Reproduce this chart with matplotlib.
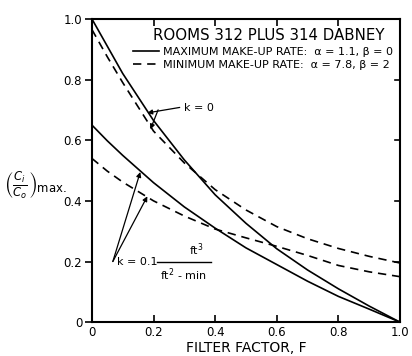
import numpy as np
import matplotlib
matplotlib.use('Agg')
from matplotlib import pyplot as plt
from matplotlib.lines import Line2D

# filter factor F
f_vals = [0.0, 0.05, 0.1, 0.2, 0.3, 0.4, 0.5, 0.6, 0.7, 0.8, 0.9, 1.0]

# k = 0 curves
max_k0 = [1.0, 0.91, 0.82, 0.665, 0.535, 0.42, 0.326, 0.242, 0.172, 0.11, 0.053, 0.0]
min_k0 = [0.965, 0.875, 0.79, 0.63, 0.525, 0.437, 0.37, 0.315, 0.275, 0.243, 0.217, 0.195]

# k = 0.1 ft3/ft2-min curves
max_k01 = [0.65, 0.598, 0.55, 0.46, 0.38, 0.31, 0.245, 0.19, 0.135, 0.085, 0.043, 0.0]
min_k01 = [0.54, 0.498, 0.462, 0.40, 0.35, 0.307, 0.278, 0.25, 0.22, 0.187, 0.166, 0.15]

x_ticks = [0, 0.2, 0.4, 0.6, 0.8, 1.0]
x_labels = ['0', '0.2', '0.4', '0.6', '0.8', '1.0']
y_ticks = [0, 0.2, 0.4, 0.6, 0.8, 1.0]
y_labels = ['0', '0.2', '0.4', '0.6', '0.8', '1.0']

title_txt = 'ROOMS 312 PLUS 314 DABNEY'
max_txt = 'MAXIMUM MAKE-UP RATE:  α = 1.1, β = 0'
min_txt = 'MINIMUM MAKE-UP RATE:  α = 7.8, β = 2'

plt.rcParams['font.family'] = ['DejaVu Sans']

fig = plt.figure(figsize=(4.12, 3.56), dpi=100)
ax = fig.add_axes([0.223, 0.095, 0.748, 0.852])

lw = 1.2
dash = (5, 3.5)
ax.plot(f_vals, max_k0, color='black', lw=lw)
ax.plot(f_vals, min_k0, color='black', lw=lw, dashes=dash)
ax.plot(f_vals, max_k01, color='black', lw=lw)
ax.plot(f_vals, min_k01, color='black', lw=lw, dashes=dash)

ax.set_xlim(0, 1.0)
ax.set_ylim(0, 1.0)
ax.set_xticks(x_ticks)
ax.set_xticklabels(x_labels)
ax.set_yticks(y_ticks)
ax.set_yticklabels(y_labels)
ax.tick_params(axis='x', direction='in', top=True, length=5, width=1.2,
               labelsize=8.5, pad=3)
ax.tick_params(axis='y', direction='out', length=5, width=1.2,
               labelsize=8.5, pad=2)
for s in ax.spines.values():
    s.set_linewidth(1.5)

# inward ticks on right side
for yt in y_ticks[1:-1]:
    ax.plot([0.985, 1.0], [yt, yt], color='black', lw=1.2,
            transform=ax.get_yaxis_transform(), clip_on=False)

ax.set_xlabel('FILTER FACTOR, F', fontsize=10, labelpad=1)
fig.text(0.01, 0.48, r'$\left(\frac{C_i}{C_o}\right)_{\mathregular{max.}}$',
         fontsize=12, ha='left', va='center')

# legend block
ax.text(0.575, 0.945, title_txt, fontsize=10.8, ha='center', va='center',
        transform=ax.transAxes)
handles = [Line2D([], [], color='black', lw=lw),
           Line2D([], [], color='black', lw=lw, dashes=dash)]
leg = ax.legend(handles, [max_txt, min_txt], loc='upper right',
                bbox_to_anchor=(1.0, 0.93), frameon=False, fontsize=8,
                handlelength=2.4, handletextpad=0.35, labelspacing=0.3,
                borderaxespad=0.2)

# k = 0 label with arrows
ax.text(0.30, 0.705, 'k = 0', fontsize=8, ha='left', va='center')
arr = dict(arrowstyle='-|>', color='black', lw=0.9, mutation_scale=7,
           shrinkA=0, shrinkB=0)
ax.annotate('', xy=(0.18, 0.69), xytext=(0.285, 0.708), arrowprops=arr)
ax.annotate('', xy=(0.19, 0.636), xytext=(0.215, 0.70), arrowprops=arr)

# k = 0.1 label with arrows
ax.annotate('', xy=(0.157, 0.495), xytext=(0.068, 0.2), arrowprops=arr)
ax.annotate('', xy=(0.18, 0.415), xytext=(0.068, 0.2), arrowprops=arr)
ax.text(0.08, 0.2, 'k = 0.1', fontsize=8, ha='left', va='center')
ax.text(0.34, 0.212, r'ft$^3$', fontsize=8, ha='center', va='bottom')
ax.plot([0.21, 0.385], [0.2, 0.2], color='black', lw=1.0)
ax.text(0.297, 0.185, r'ft$^2$ - min', fontsize=8, ha='center', va='top')

fig.savefig('out.png', dpi=100)
